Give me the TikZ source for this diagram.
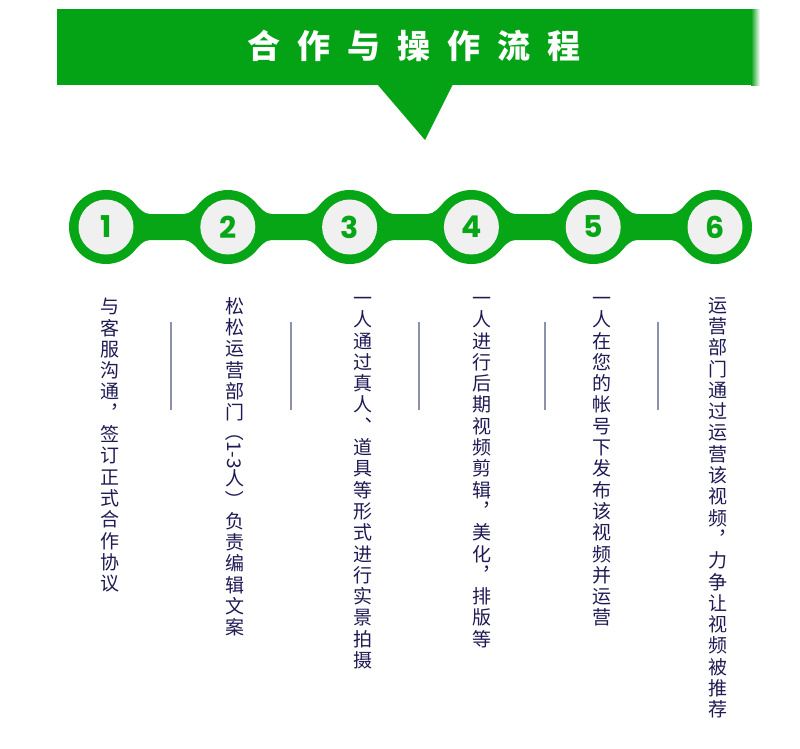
\documentclass[tikz,border=0pt]{standalone}
\usepackage{fontspec}
\usetikzlibrary{calc}
\newfontfamily\cjk{Noto Sans CJK SC}
\newfontfamily\numfont{Poppins}
\definecolor{bannergreen}{RGB}{4,163,22}
\definecolor{chaingreen}{RGB}{6,166,22}
\definecolor{discgrey}{RGB}{240,240,240}
\definecolor{inknavy}{RGB}{30,26,84}
\definecolor{rulegrey}{RGB}{140,146,170}
\newcommand{\tgap}{\hspace{17pt}}
\newcommand{\sideways}[1]{\rotatebox[origin=c]{-90}{#1}}

\begin{document}
\begin{tikzpicture}[
    x=1pt,y=-1pt,
    ring/.style={circle,fill=chaingreen,minimum size=74pt,inner sep=0pt},
    disc/.style={circle,fill=discgrey,minimum size=55pt,inner sep=0pt,
      text=chaingreen,font=\numfont\bfseries\fontsize{30}{30}\selectfont},
    steptext/.style={align=center,anchor=north,inner sep=0pt,text=inknavy,
      font=\cjk\fontsize{19}{21.3}\selectfont},
    sepline/.style={draw=rulegrey,line width=1.5pt}
  ]
    \useasboundingbox (0,0) rectangle (800,748);

    % banner with pointer
    \fill[bannergreen] (57,9) rectangle (752,85);
    \shade[left color=bannergreen,right color=white] (751,9) rectangle (760,85);
    \fill[bannergreen] (377,84) -- (453,84) -- (425,140) -- cycle;
    \node[text=white,font=\cjk\bfseries\fontsize{33}{33}\selectfont] (title) at (414,46)
      {合\tgap 作\tgap 与\tgap 操\tgap 作\tgap 流\tgap 程};

    % chain of steps
    \foreach \i in {1,...,6}
      \node[ring] (s\i) at ({106+121.8*(\i-1)},227) {};
    \foreach \i [evaluate=\i as \j using int(\i+1)] in {1,...,5}
      \fill[chaingreen] ($(s\i)+(26,-26)$) .. controls ($(s\i)+(33,-19)$) and ($(s\i)+(37,-13)$) .. ($(s\i)+(44,-13)$)
        -- ($(s\j)+(-44,-13)$) .. controls ($(s\j)+(-37,-13)$) and ($(s\j)+(-33,-19)$) .. ($(s\j)+(-26,-26)$)
        -- ($(s\j)+(-26,26)$) .. controls ($(s\j)+(-33,19)$) and ($(s\j)+(-37,13)$) .. ($(s\j)+(-44,13)$)
        -- ($(s\i)+(44,13)$) .. controls ($(s\i)+(37,13)$) and ($(s\i)+(33,19)$) .. ($(s\i)+(26,26)$) -- cycle;
    \foreach \i in {1,...,6}
      \node[disc] (n\i) at (s\i) {\i};

    % step descriptions
    \node[steptext] (t1) at (110,298) {与\\客\\服\\沟\\通\\︐\\签\\订\\正\\式\\合\\作\\协\\议};
    \node[steptext] (t2) at (235,297) {松\\松\\运\\营\\部\\门\\\sideways{（1-3}\\人\\\sideways{）}\\负\\责\\编\\辑\\文\\案};
    \node[steptext] (t3) at (363,297) {一\\人\\通\\过\\真\\人\\︑\\道\\具\\等\\形\\式\\进\\行\\实\\景\\拍\\摄};
    \node[steptext] (t4) at (482,297) {一\\人\\进\\行\\后\\期\\视\\频\\剪\\辑\\︐\\美\\化\\︐\\排\\版\\等};
    \node[steptext] (t5) at (602,297) {一\\人\\在\\您\\的\\帐\\号\\下\\发\\布\\该\\视\\频\\并\\运\\营};
    \node[steptext] (t6) at (718,297) {运\\营\\部\\门\\通\\过\\运\\营\\该\\视\\频\\︐\\力\\争\\让\\视\\频\\被\\推\\荐};

    % separators
    \foreach \x in {171,291,419,545,658}
      \draw[sepline] (\x,322) -- (\x,410);
  \end{tikzpicture}
\end{document}
